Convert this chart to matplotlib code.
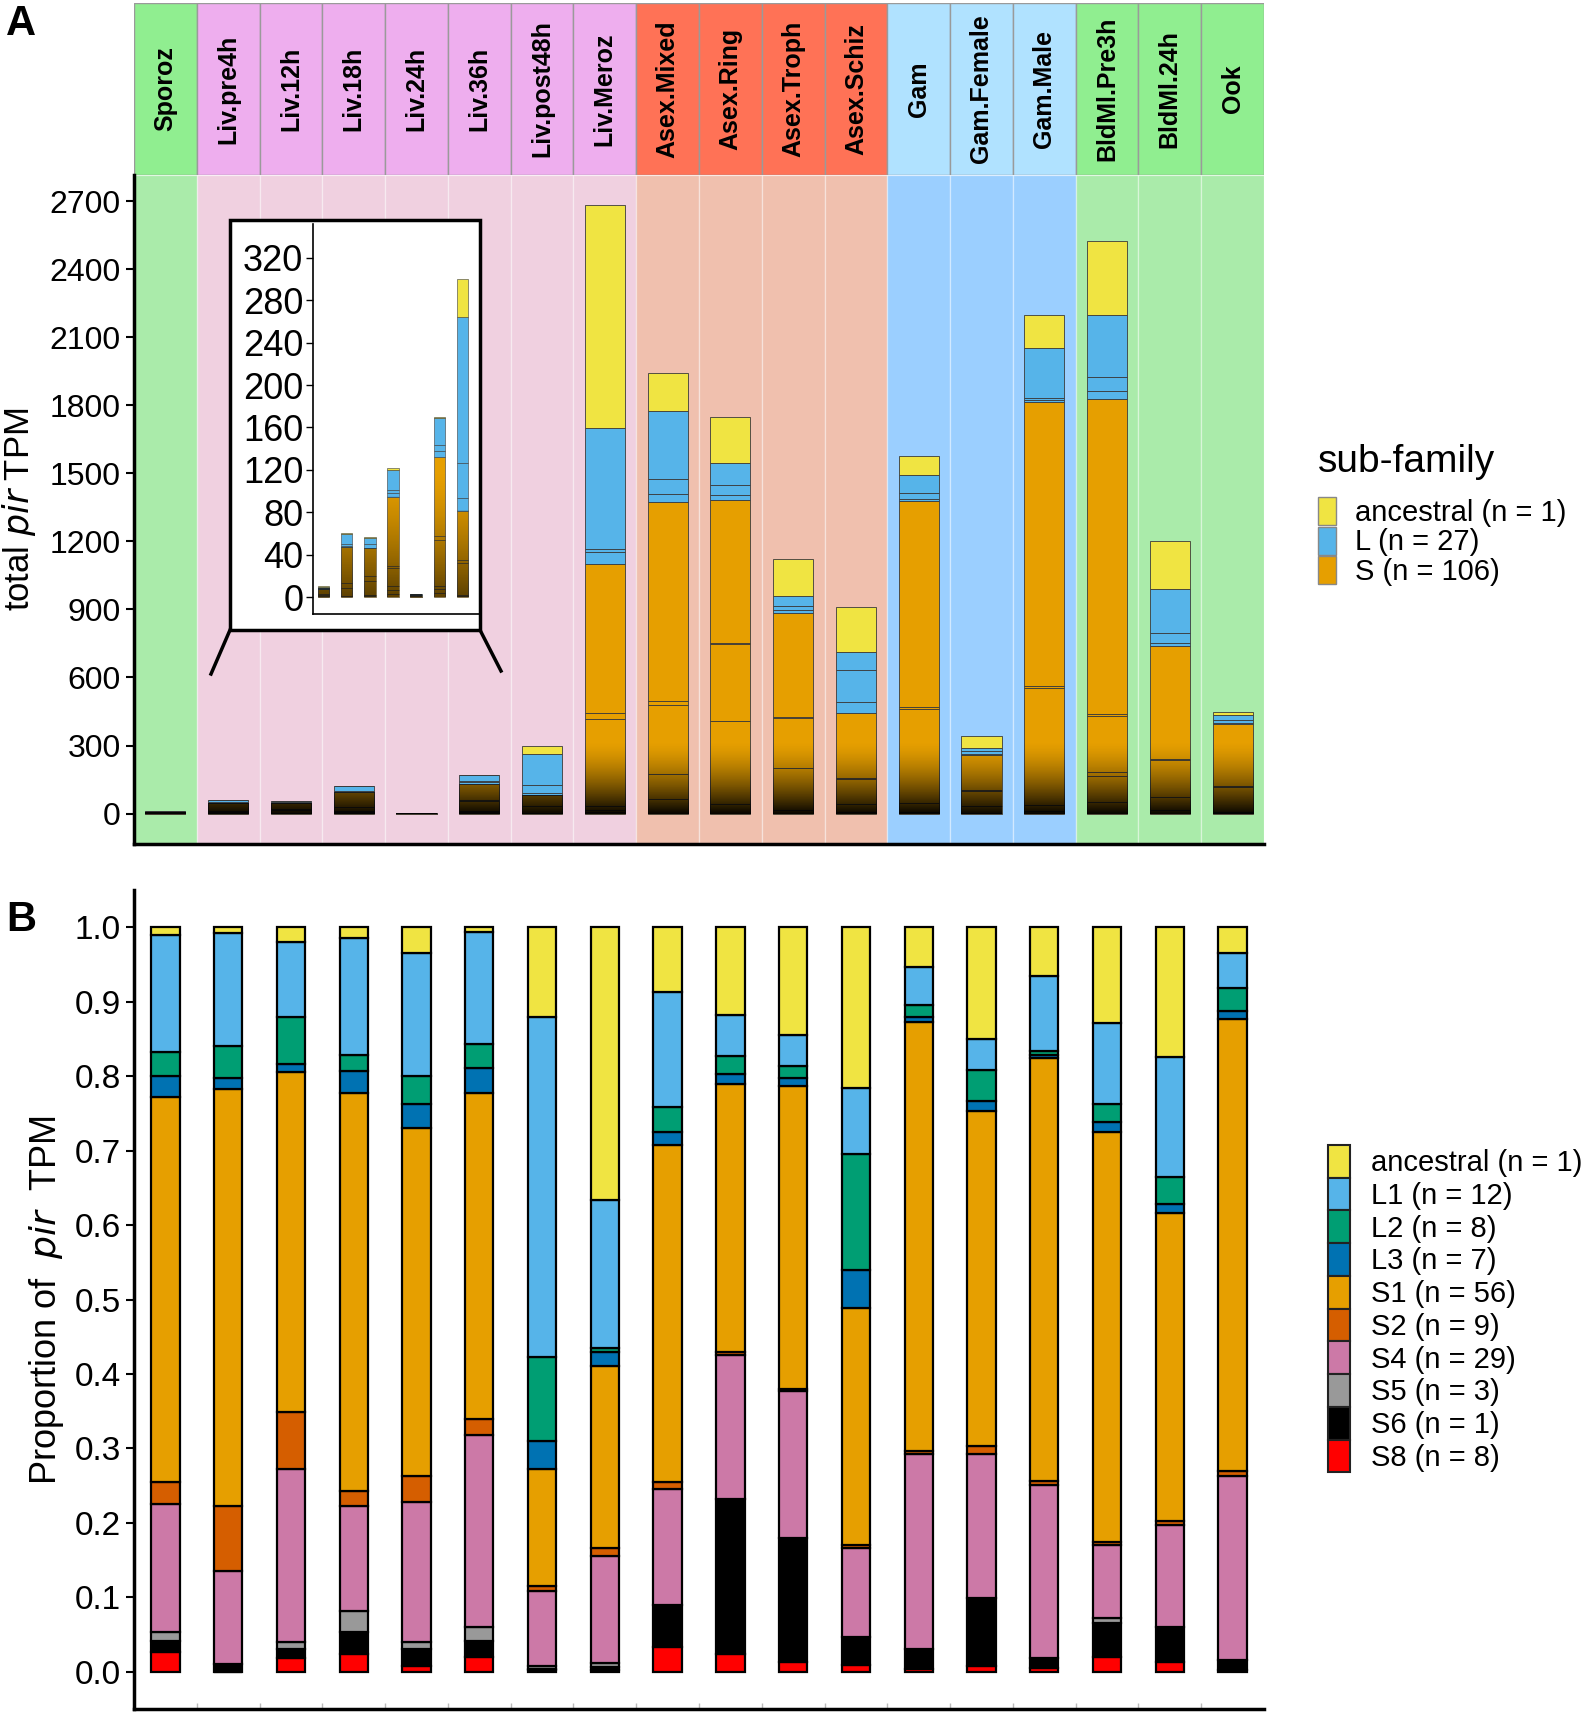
import numpy as np
import matplotlib
matplotlib.use("Agg")
import matplotlib.pyplot as plt
from matplotlib.patches import Patch, Rectangle
from matplotlib.lines import Line2D

plt.rcParams['font.family'] = ['Liberation Sans', 'DejaVu Sans']

# stages and groups
stages = ["Sporoz", "Liv.pre4h", "Liv.12h", "Liv.18h", "Liv.24h", "Liv.36h", "Liv.post48h",
          "Liv.Meroz", "Asex.Mixed", "Asex.Ring", "Asex.Troph", "Asex.Schiz", "Gam",
          "Gam.Female", "Gam.Male", "BldMl.Pre3h", "BldMl.24h", "Ook"]
groups = ["green", "liv", "liv", "liv", "liv", "liv", "liv", "liv", "asex", "asex", "asex", "asex",
          "gam", "gam", "gam", "green", "green", "green"]

# total pir TPM per stage (panel A)
total_tpm = [10, 60, 57, 122, 3, 170, 300, 2681, 1943, 1750, 1123, 911, 1577, 342, 2199, 2522, 1200, 448]

# proportion of pir TPM per sub-family (panel B), bottom to top
S8 = [.027, .000, .018, .024, .008, .020, .002, .002, .033, .024, .013, .009, .004, .008, .005, .020, .013, .003]
S6 = [.015, .010, .012, .029, .022, .022, .002, .004, .057, .208, .167, .038, .026, .091, .013, .046, .047, .013]
S5 = [.012, .000, .010, .029, .010, .018, .004, .006, .000, .000, .000, .000, .000, .000, .000, .006, .000, .000]
S4 = [.172, .126, .233, .140, .188, .258, .100, .144, .156, .194, .197, .119, .263, .194, .233, .098, .137, .247]
S2 = [.029, .086, .076, .021, .035, .022, .007, .010, .009, .004, .003, .004, .004, .010, .005, .004, .005, .007]
S1 = [.517, .561, .457, .534, .467, .437, .157, .245, .452, .360, .407, .318, .576, .450, .569, .551, .414, .607]
L3 = [.028, .014, .010, .030, .032, .034, .038, .019, .018, .013, .011, .052, .007, .013, .004, .013, .012, .010]
L2 = [.033, .044, .064, .021, .038, .032, .113, .005, .033, .024, .015, .155, .015, .042, .005, .025, .037, .031]
L1 = [.157, .151, .100, .157, .166, .150, .457, .199, .155, .055, .042, .089, .052, .042, .100, .108, .161, .048]
anc = [.010, .008, .020, .015, .034, .007, .120, .366, .087, .118, .145, .216, .053, .150, .066, .129, .174, .034]

sub_names = ["S8", "S6", "S5", "S4", "S2", "S1", "L3", "L2", "L1", "ancestral"]
sub_vals = [S8, S6, S5, S4, S2, S1, L3, L2, L1, anc]
sub_cols = ["#FF0000", "#000000", "#999999", "#CC79A7", "#D55E00", "#E69F00",
            "#0072B2", "#009E73", "#56B4E9", "#F0E442"]
sub_n = {"ancestral": 1, "L1": 12, "L2": 8, "L3": 7, "S1": 56, "S2": 9, "S4": 29, "S5": 3, "S6": 1, "S8": 8}
fam_col = {"S": "#E69F00", "L": "#56B4E9", "a": "#F0E442"}

head_col = {"green": "#90EE90", "liv": "#EEAEEE", "asex": "#FF7256", "gam": "#B0E2FF"}
band_col = {"green": "#AAEBAA", "liv": "#F0D0E0", "asex": "#F0C0AE", "gam": "#9BCFFF"}

W, H = 1594, 1712
fig = plt.figure(figsize=(W / 100, H / 100), dpi=100)

def fx(px):
    return px / W

def fy(py):
    return 1 - py / H

x = np.arange(1, len(stages) + 1)
props = np.array(sub_vals)
tot = np.array(total_tpm, dtype=float)

# ---- header strip
axh = fig.add_axes([fx(134), fy(175), fx(1264) - fx(134), fy(3) - fy(175)])
for i, s in enumerate(stages):
    axh.add_patch(Rectangle((x[i] - 0.5, 0), 1, 1, facecolor=head_col[groups[i]], edgecolor="#9a9a9a", lw=1))
    axh.text(x[i], 0.5, s, rotation=90, ha="center", va="center", fontsize=18, fontweight="bold")
axh.set_xlim(0.5, 18.5)
axh.set_ylim(0, 1)
axh.axis("off")

# ---- panel A
axA = fig.add_axes([fx(134), fy(844), fx(1264) - fx(134), fy(175) - fy(844)])
for i in range(len(stages)):
    axA.axvspan(x[i] - 0.5, x[i] + 0.5, facecolor=band_col[groups[i]], edgecolor=(1, 1, 1, 0.35), lw=1, zorder=0)

def darken(ax, xc, w, top, depth, amax):
    n = 300
    yy = np.linspace(0, top, n)
    a = amax * np.clip(1 - yy / depth, 0, 1) ** 1.5
    img = np.zeros((n, 1, 4))
    img[:, 0, 3] = a
    ax.imshow(img, extent=(xc - w / 2, xc + w / 2, 0, top), origin="lower", aspect="auto",
              interpolation="bilinear", zorder=3)

def stacked_tpm(ax, xs, tots, pr, w, depth, amax, lw):
    bottom = np.zeros(len(xs))
    for name, vals in zip(sub_names, pr):
        h = vals * tots
        ax.bar(xs, h, bottom=bottom, width=w, color=fam_col[name[0]], edgecolor="#3a3a3a", lw=lw, zorder=2)
        bottom = bottom + h
    s_top = pr[:6].sum(axis=0) * tots
    for xc, st in zip(xs, s_top):
        darken(ax, xc, w, st, depth, amax)

stacked_tpm(axA, x, tot, props, 0.64, 320, 0.97, 0.6)
axA.set_xlim(0.5, 18.5)
axA.set_ylim(-134, 2815)
axA.set_yticks(np.arange(0, 2701, 300))
axA.tick_params(axis="y", labelsize=23, length=6, width=1.5)
axA.set_xticks([])
for sp in ["top", "right"]:
    axA.spines[sp].set_visible(False)
axA.spines["left"].set_linewidth(2.5)
axA.spines["bottom"].set_linewidth(2.5)
axA.set_ylabel(r"total $\it{pir}$ TPM", fontsize=25, labelpad=8)

# inset box
fig.add_artist(Rectangle((fx(230), fy(630)), fx(480) - fx(230), fy(220) - fy(630), transform=fig.transFigure,
                         facecolor="white", edgecolor="black", lw=2.5, zorder=5))
fig.add_artist(Line2D([fx(230), fx(211)], [fy(630), fy(674)], color="black", lw=2.5))
fig.add_artist(Line2D([fx(480), fx(501)], [fy(630), fy(671)], color="black", lw=2.5))

axI = fig.add_axes([fx(313), fy(614), fx(480) - fx(313), fy(224) - fy(614)], zorder=6)
axI.patch.set_alpha(0)
xi = np.arange(1, 8)
stacked_tpm(axI, xi, tot[:7], props[:, :7], 0.5, 120, 0.6, 0.4)
axI.set_xlim(0.55, 7.75)
axI.set_ylim(-16, 352)
axI.set_yticks(np.arange(0, 321, 40))
axI.set_xticks([])
axI.tick_params(axis="y", labelsize=26, length=5, width=1, pad=2)
for sp in ["top", "right"]:
    axI.spines[sp].set_visible(False)
axI.spines["left"].set_linewidth(1.2)
axI.spines["bottom"].set_linewidth(1.2)

legA = fig.legend(handles=[Patch(facecolor=fam_col["a"], edgecolor="#888888", label="ancestral (n = 1)"),
                           Patch(facecolor=fam_col["L"], edgecolor="#888888", label="L (n = 27)"),
                           Patch(facecolor=fam_col["S"], edgecolor="#888888", label="S (n = 106)")],
                  title="sub-family", loc="upper left", bbox_to_anchor=(fx(1318), fy(444)),
                  frameon=False, fontsize=21, title_fontsize=28, handlelength=0.63, handleheight=1.1,
                  labelspacing=0, handletextpad=0.63, borderaxespad=0, borderpad=0)
legA._legend_box.align = "left"
legA._legend_box.sep = 12

# ---- panel B
axB = fig.add_axes([fx(134), fy(1709), fx(1264) - fx(134), fy(890) - fy(1709)])
bottom = np.zeros(len(stages))
for name, vals, col in zip(sub_names, props, sub_cols):
    axB.bar(x, vals, bottom=bottom, width=0.45, color=col, edgecolor="black", lw=1.6, zorder=2)
    bottom = bottom + vals
axB.set_xlim(0.5, 18.5)
axB.set_ylim(-0.05, 1.05)
axB.set_yticks(np.arange(0, 1.01, 0.1))
axB.set_yticklabels([f"{v:.1f}" for v in np.arange(0, 1.01, 0.1)])
axB.tick_params(axis="y", labelsize=24, length=6, width=1.5)
axB.set_xticks(np.arange(1.5, 18, 1))
axB.set_xticklabels([])
axB.tick_params(axis="x", length=4, width=1, color="#bbbbbb", direction="in")
for sp in ["top", "right"]:
    axB.spines[sp].set_visible(False)
axB.spines["left"].set_linewidth(2.5)
axB.spines["bottom"].set_linewidth(2.5)
axB.set_ylabel(r"Proportion of  $\it{pir}$  TPM", fontsize=26, labelpad=6)

hB = [Patch(facecolor=c, edgecolor="#222222", lw=1.5, label=f"{n} (n = {sub_n[n]})")
      for n, c in zip(sub_names[::-1], sub_cols[::-1])]
fig.legend(handles=hB, loc="upper left", bbox_to_anchor=(fx(1328), fy(1145)), frameon=False, fontsize=21,
           handlelength=0.75, handleheight=1.35, labelspacing=0, handletextpad=0.72, borderaxespad=0,
           borderpad=0)

fig.text(fx(6), fy(4), "A", fontsize=30, fontweight="bold", va="top")
fig.text(fx(6), fy(900), "B", fontsize=30, fontweight="bold", va="top")

fig.savefig("out.png", dpi=100)
